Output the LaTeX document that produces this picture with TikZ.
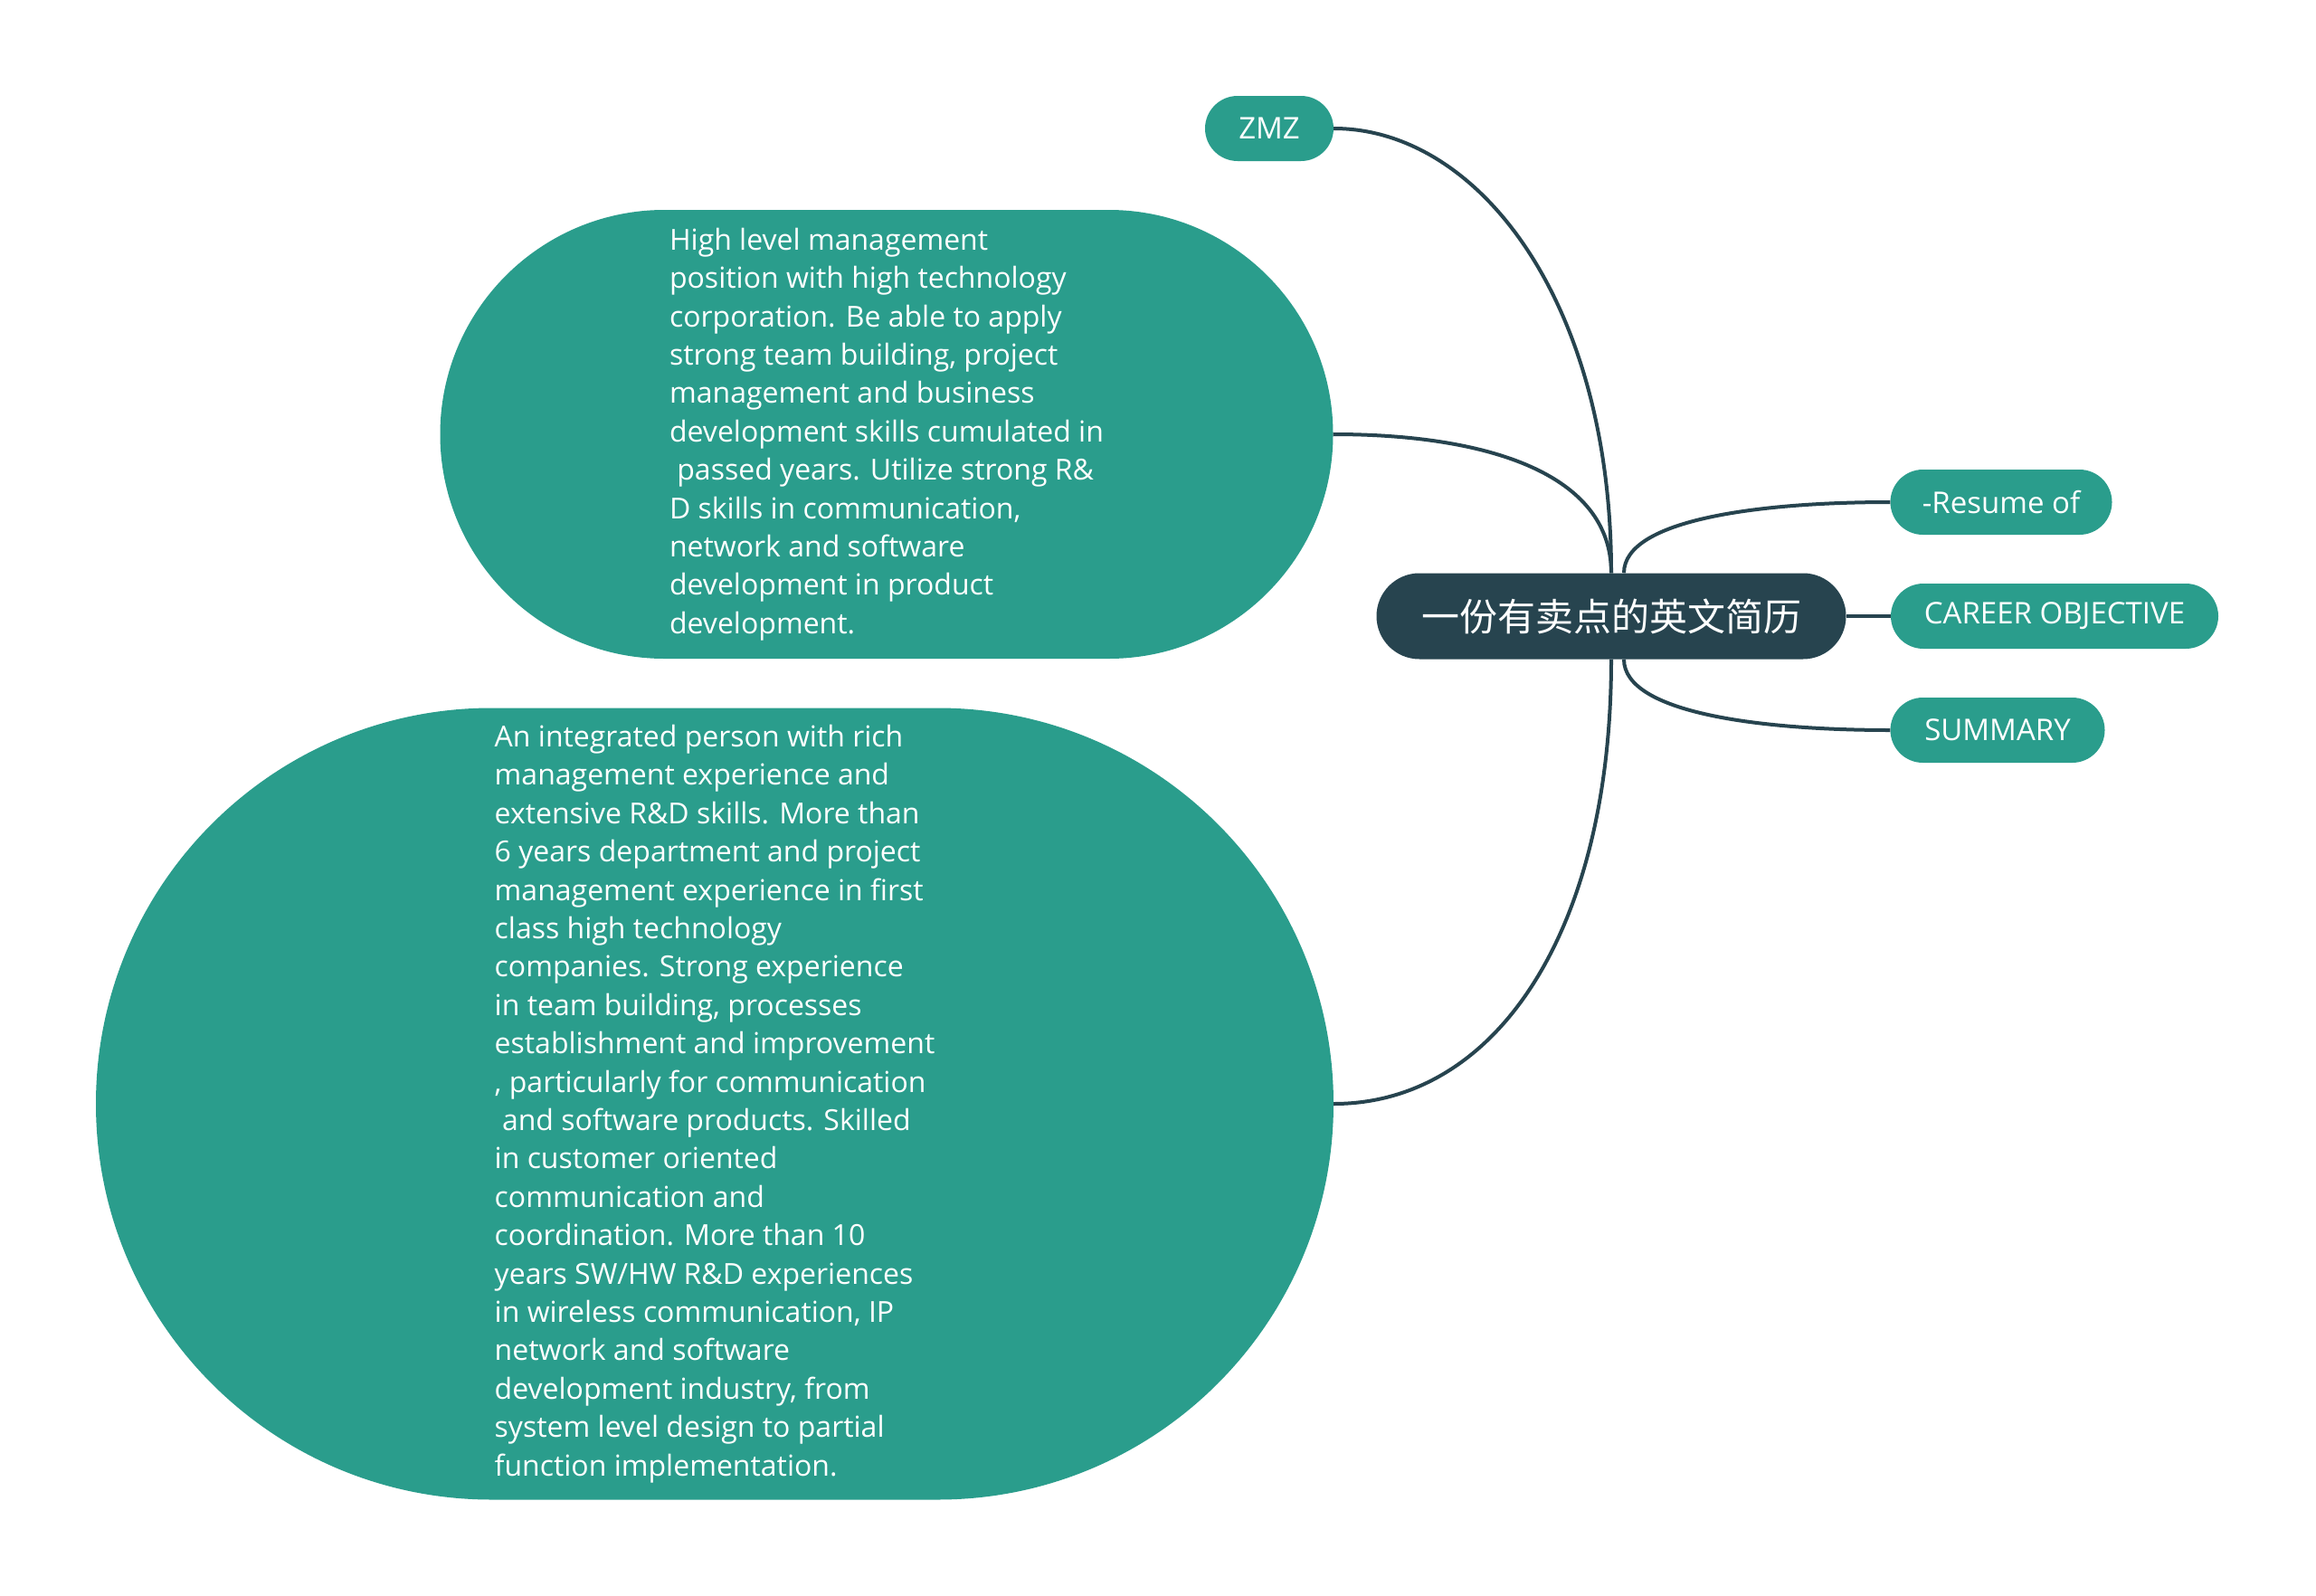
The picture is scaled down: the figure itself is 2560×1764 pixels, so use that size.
\documentclass[tikz,border=0pt]{standalone}
\usepackage{fontspec}
\setmainfont{Open Sans}
\newfontfamily\cjk{Noto Sans CJK SC}
\usepackage{xcolor}
\usepackage{tikz}
\usetikzlibrary{shapes.misc}
\definecolor{verde}{HTML}{2A9D8C}
\definecolor{oscuro}{HTML}{27444F}

\begin{document}
\begin{tikzpicture}[x=1pt,y=-1pt,
  nodo/.style={rounded rectangle,inner sep=0pt,text=white},
  hoja/.style={nodo,fill=verde,minimum height=72pt,font=\fontsize{33}{40}\selectfont},
  nota/.style={nodo,fill=verde,align=left,font=\fontsize{32}{42.4}\selectfont},
  raiz/.style={nodo,fill=oscuro,minimum width=519pt,minimum height=95pt,font=\cjk\fontsize{42}{50}\selectfont},
  rama/.style={draw=oscuro,line width=4pt}
]
  \fill[white] (0,0) rectangle (2560,1764);
  \useasboundingbox (0,0) rectangle (2560,1764);

  \node[raiz] (0) at (1781,681) {一份有卖点的英文简历};
  \node[hoja,minimum width=142pt] (1) at (1403,142) {ZMZ};
  \node[nota,minimum width=987pt,minimum height=496pt] (2) at (980,480)
    {High level management\\
     position with high technology\\
     corporation. Be able to apply\\
     strong team building, project\\
     management and business\\
     development skills cumulated in\\
     \ passed years. Utilize strong R\&\\
     D skills in communication,\\
     network and software\\
     development in product\\
     development.};
  \node[nota,minimum width=1368pt,minimum height=875pt] (3) at (790,1220)
    {An integrated person with rich\\
     management experience and\\
     extensive R\&D skills. More than\\
     6 years department and project\\
     management experience in first\\
     class high technology\\
     companies. Strong experience\\
     in team building, processes\\
     establishment and improvement\\
     , particularly for communication\\
     \ and software products. Skilled\\
     in customer oriented\\
     communication and\\
     coordination. More than 10\\
     years SW/HW R\&D experiences\\
     in wireless communication, IP\\
     network and software\\
     development industry, from\\
     system level design to partial\\
     function implementation.};
  \node[hoja,minimum width=245pt] (4) at (2212,555) {-Resume of};
  \node[hoja,minimum width=362pt] (5) at (2271,681) {CAREER OBJECTIVE};
  \node[hoja,minimum width=237pt] (6) at (2208,807) {SUMMARY};

  % ramas
  \draw[rama] (1.east) .. controls +(160,0) and +(0,-300) .. (0.north);
  \draw[rama] (2.east) .. controls +(170,0) and +(0,-110) .. (0.north);
  \draw[rama] (3.east) .. controls +(180,0) and +(0,300) .. (0.south);
  \draw[rama] ([xshift=14pt]0.north) .. controls +(0,-60) and +(-140,0) .. (4.west);
  \draw[rama] (0.east) -- (5.west);
  \draw[rama] ([xshift=14pt]0.south) .. controls +(0,60) and +(-140,0) .. (6.west);
\end{tikzpicture}
\end{document}
